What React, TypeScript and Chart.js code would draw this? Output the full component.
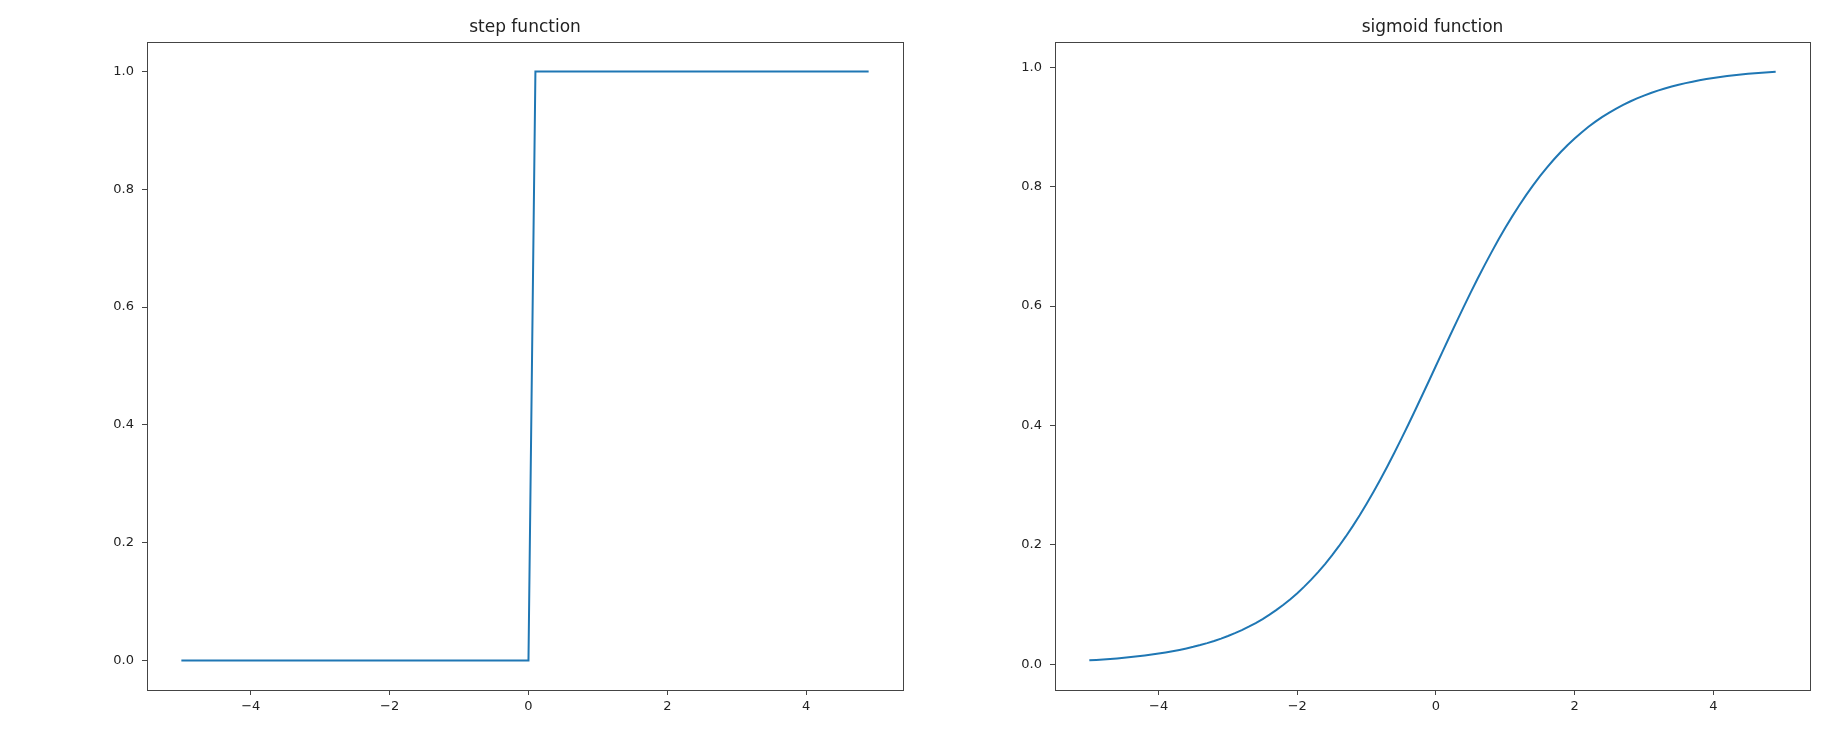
import React, { useEffect, useRef } from "react";
import { Chart, registerables } from "chart.js";

Chart.register(...registerables);

const xValues = [
  -5.0, -4.9, -4.8, -4.7, -4.6, -4.5, -4.4, -4.3, -4.2, -4.1,
  -4.0, -3.9, -3.8, -3.7, -3.6, -3.5, -3.4, -3.3, -3.2, -3.1,
  -3.0, -2.9, -2.8, -2.7, -2.6, -2.5, -2.4, -2.3, -2.2, -2.1,
  -2.0, -1.9, -1.8, -1.7, -1.6, -1.5, -1.4, -1.3, -1.2, -1.1,
  -1.0, -0.9, -0.8, -0.7, -0.6, -0.5, -0.4, -0.3, -0.2, -0.1,
  0.0, 0.1, 0.2, 0.3, 0.4, 0.5, 0.6, 0.7, 0.8, 0.9,
  1.0, 1.1, 1.2, 1.3, 1.4, 1.5, 1.6, 1.7, 1.8, 1.9,
  2.0, 2.1, 2.2, 2.3, 2.4, 2.5, 2.6, 2.7, 2.8, 2.9,
  3.0, 3.1, 3.2, 3.3, 3.4, 3.5, 3.6, 3.7, 3.8, 3.9,
  4.0, 4.1, 4.2, 4.3, 4.4, 4.5, 4.6, 4.7, 4.8, 4.9,
];

const stepValues = [
  0, 0, 0, 0, 0, 0, 0, 0, 0, 0,
  0, 0, 0, 0, 0, 0, 0, 0, 0, 0,
  0, 0, 0, 0, 0, 0, 0, 0, 0, 0,
  0, 0, 0, 0, 0, 0, 0, 0, 0, 0,
  0, 0, 0, 0, 0, 0, 0, 0, 0, 0,
  0, 1, 1, 1, 1, 1, 1, 1, 1, 1,
  1, 1, 1, 1, 1, 1, 1, 1, 1, 1,
  1, 1, 1, 1, 1, 1, 1, 1, 1, 1,
  1, 1, 1, 1, 1, 1, 1, 1, 1, 1,
  1, 1, 1, 1, 1, 1, 1, 1, 1, 1,
];

const sigmoidValues = [
  0.00669, 0.00739, 0.00816, 0.00901, 0.00995, 0.01099, 0.01213, 0.01339, 0.01477, 0.0163,
  0.01799, 0.01984, 0.02188, 0.02413, 0.0266, 0.02931, 0.0323, 0.03557, 0.03917, 0.04311,
  0.04743, 0.05215, 0.05732, 0.06297, 0.06914, 0.07586, 0.08317, 0.09112, 0.09975, 0.1091,
  0.1192, 0.13011, 0.14185, 0.15447, 0.16798, 0.18243, 0.19782, 0.21417, 0.23148, 0.24974,
  0.26894, 0.28905, 0.31003, 0.33181, 0.35434, 0.37754, 0.40131, 0.42556, 0.45017, 0.47502,
  0.5, 0.52498, 0.54983, 0.57444, 0.59869, 0.62246, 0.64566, 0.66819, 0.68997, 0.71095,
  0.73106, 0.75026, 0.76852, 0.78583, 0.80218, 0.81757, 0.83202, 0.84553, 0.85815, 0.86989,
  0.8808, 0.8909, 0.90025, 0.90888, 0.91683, 0.92414, 0.93086, 0.93703, 0.94268, 0.94785,
  0.95257, 0.95689, 0.96083, 0.96443, 0.9677, 0.97069, 0.9734, 0.97587, 0.97812, 0.98016,
  0.98201, 0.9837, 0.98523, 0.98661, 0.98787, 0.98901, 0.99005, 0.99099, 0.99184, 0.99261,
];

const xTicks = [-4, -2, 0, 2, 4];
const yTicks = [0.0, 0.2, 0.4, 0.6, 0.8, 1.0];
const xRange = [-5.495, 5.395];
const stepYRange = [-0.05, 1.05];
const sigmoidYRange = [-0.0430, 1.0423];

const FONT = '"DejaVu Sans", sans-serif';

function fmtX(v: number) {
  return v < 0 ? "\u2212" + Math.abs(v) : String(v);
}

type PanelProps = {
  title: string;
  ys: number[];
  yRange: number[];
  left: number;
  padLeft: number;
  padRight: number;
};

function Panel({ title, ys, yRange, left, padLeft, padRight }: PanelProps) {
  const ref = useRef<HTMLCanvasElement>(null);
  useEffect(() => {
    if (!ref.current) return;
    const framePlugin = {
      id: "frame",
      afterDraw(chart: any) {
        const { ctx, chartArea } = chart;
        ctx.save();
        ctx.strokeStyle = "#444";
        ctx.lineWidth = 1;
        ctx.strokeRect(
          Math.round(chartArea.left) + 0.5,
          Math.round(chartArea.top) + 0.5,
          Math.round(chartArea.right - chartArea.left),
          Math.round(chartArea.bottom - chartArea.top)
        );
        ctx.fillStyle = "#222";
        ctx.font = "17px " + FONT;
        ctx.textAlign = "center";
        ctx.textBaseline = "alphabetic";
        ctx.fillText(title, (chartArea.left + chartArea.right) / 2, 32);
        ctx.restore();
      },
    };
    const chart = new Chart(ref.current, {
      type: "line",
      data: {
        datasets: [
          {
            data: xValues.map((x, i) => ({ x, y: ys[i] })),
            borderColor: "#1f77b4",
            borderWidth: 2,
            pointRadius: 0,
            fill: false,
            tension: 0,
          },
        ],
      },
      options: {
        animation: false,
        responsive: false,
        devicePixelRatio: 1,
        layout: { padding: { left: padLeft, right: padRight, top: 42, bottom: 8 } },
        plugins: { legend: { display: false }, tooltip: { enabled: false }, title: { display: false } },
        scales: {
          x: {
            type: "linear",
            min: xRange[0],
            max: xRange[1],
            afterBuildTicks: (s: any) => {
              s.ticks = xTicks.map((v) => ({ value: v }));
            },
            afterFit: (s: any) => {
              s.height = 40;
            },
            grid: { display: true, drawOnChartArea: false, drawTicks: true, tickLength: 5, color: "#444", lineWidth: 1 },
            border: { display: false },
            ticks: {
              padding: 4,
              color: "#222",
              font: { family: FONT, size: 13 },
              maxRotation: 0,
              autoSkip: false,
              callback: (v: any) => fmtX(Number(v)),
            },
          },
          y: {
            type: "linear",
            min: yRange[0],
            max: yRange[1],
            afterBuildTicks: (s: any) => {
              s.ticks = yTicks.map((v) => ({ value: v }));
            },
            afterFit: (s: any) => {
              s.width = 60;
            },
            grid: { display: true, drawOnChartArea: false, drawTicks: true, tickLength: 5, color: "#444", lineWidth: 1 },
            border: { display: false },
            ticks: {
              padding: 8,
              color: "#222",
              font: { family: FONT, size: 13 },
              autoSkip: false,
              callback: (v: any) => Number(v).toFixed(1),
            },
          },
        },
      },
      plugins: [framePlugin],
    } as any);
    return () => chart.destroy();
  }, []);
  return (
    <canvas
      ref={ref}
      width={913}
      height={738}
      style={{ position: "absolute", left, top: 0, width: 913, height: 738 }}
    />
  );
}

export default function App() {
  return (
    <div style={{ position: "absolute", left: 0, top: 0, width: 1826, height: 738, background: "#fff" }}>
      <Panel title="step function" ys={stepValues} yRange={stepYRange} left={0} padLeft={87} padRight={10} />
      <Panel title="sigmoid function" ys={sigmoidValues} yRange={sigmoidYRange} left={913} padLeft={82} padRight={16} />
    </div>
  );
}
